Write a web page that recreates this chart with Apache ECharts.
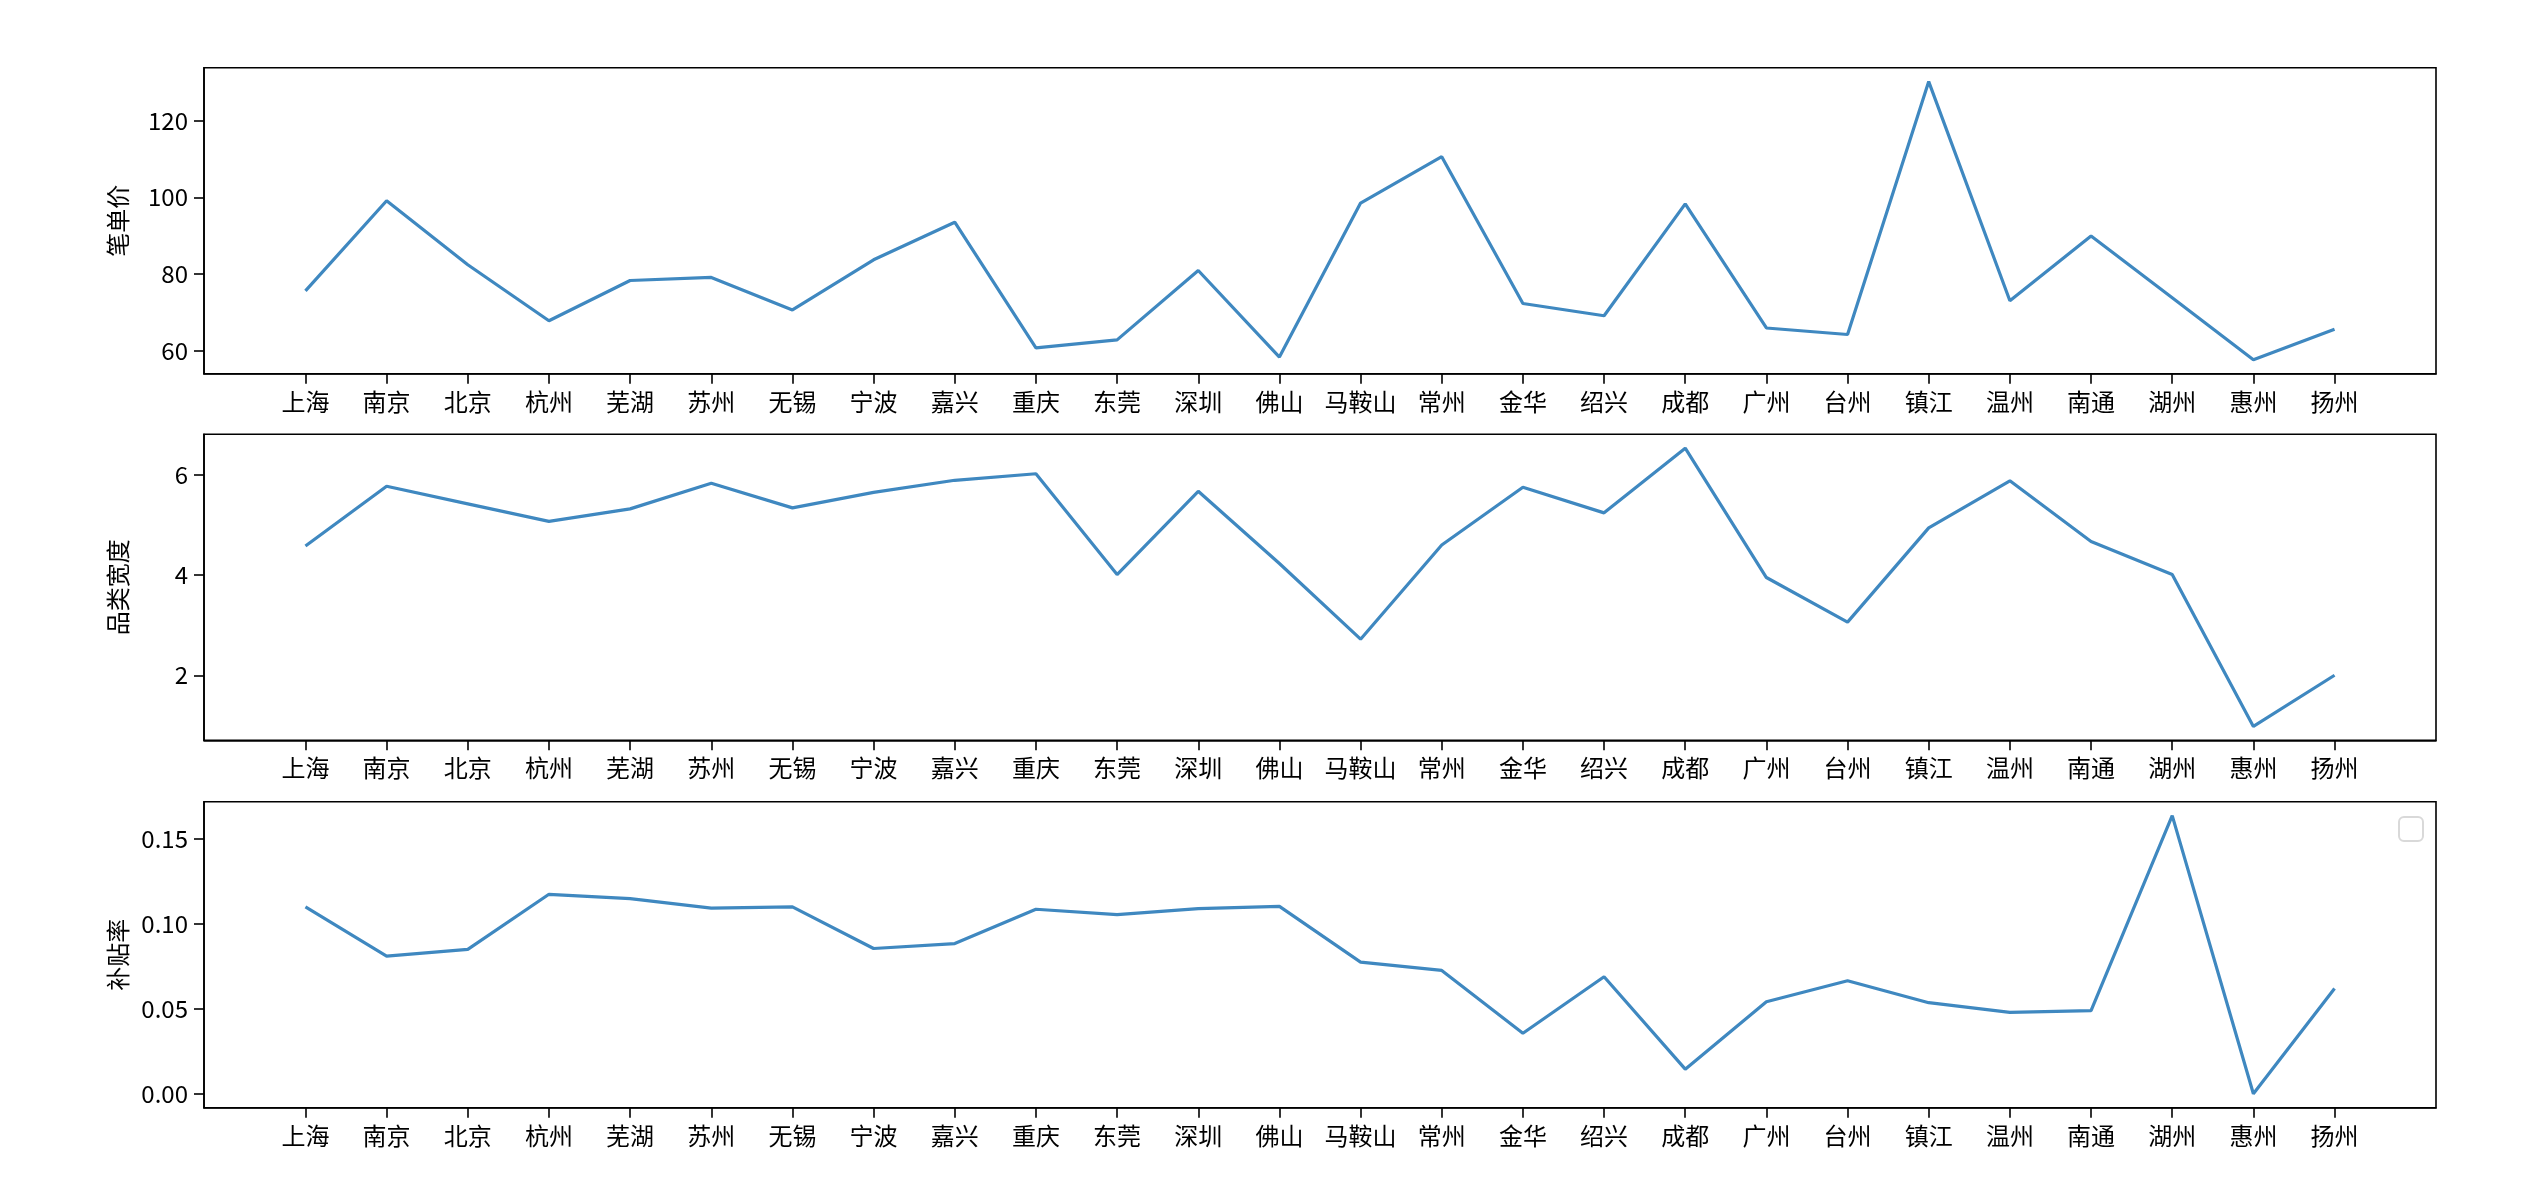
<!DOCTYPE html>
<html>
<head>
<meta charset="utf-8">
<script src="https://cdn.jsdelivr.net/npm/echarts@6/dist/echarts.min.js"></script>
<style>
html,body{margin:0;padding:0;background:#fff;}
#main{width:2526px;height:1202px;}
</style>
</head>
<body>
<div id="main"></div>
<script>
const cities = ['上海','南京','北京','杭州','芜湖','苏州','无锡','宁波','嘉兴','重庆','东莞','深圳','佛山','马鞍山','常州','金华','绍兴','成都','广州','台州','镇江','温州','南通','湖州','惠州','扬州'];
const unitPrice = [75.6, 99.1, 82.4, 67.8, 78.3, 79.1, 70.6, 83.7, 93.5, 60.7, 62.8, 80.9, 58.3, 98.5, 110.6, 72.3, 69.1, 98.3, 65.9, 64.2, 130.2, 73.0, 89.9, 73.8, 57.6, 65.6];
const categoryWidth = [4.58, 5.77, 5.42, 5.07, 5.32, 5.83, 5.34, 5.65, 5.89, 6.02, 4.01, 5.67, 4.23, 2.72, 4.60, 5.75, 5.24, 6.53, 3.95, 3.06, 4.94, 5.88, 4.67, 4.01, 0.98, 2.00];
const subsidyRate = [0.110, 0.081, 0.085, 0.1174, 0.1148, 0.1093, 0.110, 0.0855, 0.0884, 0.1086, 0.1054, 0.109, 0.1103, 0.0775, 0.0726, 0.0356, 0.0689, 0.0145, 0.0542, 0.0665, 0.0536, 0.0479, 0.0489, 0.1637, 0.0, 0.062];
const yNames = ['笔单价', '品类宽度', '补贴率'];
const yTicks1 = [60, 80, 100, 120];
const yTicks2 = [2, 4, 6];
const yTicks3 = [0.00, 0.05, 0.10, 0.15];

const FONT = '"Noto Sans CJK SC", "DejaVu Sans", sans-serif';
const LINE = '#3f88c0';
const series = [unitPrice, categoryWidth, subsidyRate];
const yTicks = [yTicks1, yTicks2, yTicks3];
const yFmt = [v => String(Math.round(v)), v => String(Math.round(v)), v => Number(v).toFixed(2)];
const tops = [67.7, 434.3, 801.7];
const H = 306;

function lims(arr) {
  const mn = Math.min(...arr), mx = Math.max(...arr), m = (mx - mn) * 0.05;
  return [mn - m, mx + m];
}
const idx = cities.map((c, i) => i);
const n = cities.length;

const grids = [], xAxes = [], yAxes = [], ser = [];
for (let k = 0; k < 3; k++) {
  grids.push({left: 204, right: 90, top: tops[k], height: H, show: true, borderColor: '#000', borderWidth: 1.6, backgroundColor: 'transparent'});
  xAxes.push({
    type: 'value', gridIndex: k, min: -1.25, max: n - 1 + 1.25, position: 'bottom',
    axisLine: {show: true, onZero: false, lineStyle: {color: '#000', width: 1.6}},
    splitLine: {show: false},
    axisTick: {show: true, inside: false, length: 10, lineStyle: {color: '#000', width: 1.6}, customValues: idx},
    axisLabel: {show: true, customValues: idx, formatter: v => cities[Math.round(v)] || '', color: '#000', fontSize: 24, fontFamily: FONT, margin: 16}
  });
  const [mn, mx] = lims(series[k]);
  yAxes.push({
    type: 'value', gridIndex: k, min: mn, max: mx, position: 'left',
    name: yNames[k], nameLocation: 'middle', nameGap: 74,
    nameTextStyle: {color: '#000', fontSize: 24, fontFamily: FONT},
    axisLine: {show: true, onZero: false, lineStyle: {color: '#000', width: 1.6}},
    splitLine: {show: false},
    axisTick: {show: true, inside: false, length: 10, lineStyle: {color: '#000', width: 1.6}, customValues: yTicks[k]},
    axisLabel: {show: true, customValues: yTicks[k], formatter: yFmt[k], color: '#000', fontSize: 24, fontFamily: FONT, margin: 16}
  });
  ser.push({
    type: 'line', xAxisIndex: k, yAxisIndex: k,
    data: series[k].map((v, i) => [i, v]),
    showSymbol: false, symbol: 'none',
    lineStyle: {color: LINE, width: 3.2},
    animation: false
  });
}

const chart = echarts.init(document.getElementById('main'), null, {renderer: 'canvas'});
chart.setOption({
  backgroundColor: '#fff',
  animation: false,
  grid: grids,
  xAxis: xAxes,
  yAxis: yAxes,
  series: ser,
  graphic: [{
    type: 'rect', right: 102, top: 816,
    shape: {width: 24, height: 24, r: 5},
    style: {fill: '#fff', stroke: '#d9d9d9', lineWidth: 2}
  }]
});
</script>
</body>
</html>
